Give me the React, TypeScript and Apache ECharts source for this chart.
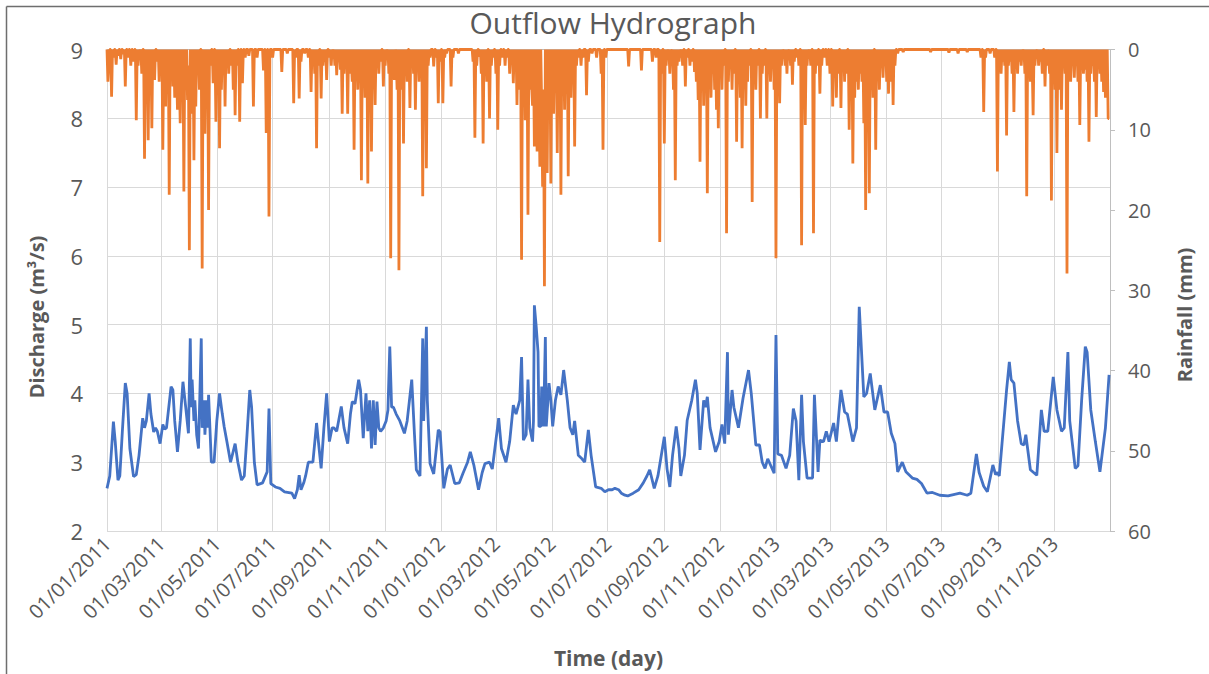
import React, { useEffect, useRef } from "react";
import * as echarts from "echarts";

const tickLabels = [
  "01/01/2011", "01/03/2011", "01/05/2011", "01/07/2011", "01/09/2011", "01/11/2011",
  "01/01/2012", "01/03/2012", "01/05/2012", "01/07/2012", "01/09/2012", "01/11/2012",
  "01/01/2013", "01/03/2013", "01/05/2013", "01/07/2013", "01/09/2013", "01/11/2013",
];

// [day since 01/01/2011, discharge m3/s]
const discharge: [number, number][] = [
  [0,2.62],[3,2.8],[7,3.59],[9,3.3],[12,2.74],[14,2.8],[17,3.5],[20,4.15],[22,4.0],[25,3.2],[29,2.79],[32,2.82],[35,3.1],[39,3.64],[41,3.5],[43,3.6],[46,4.0],[48,3.7],[51,3.44],[53,3.5],[55,3.45],[58,3.27],[61,3.55],[63,3.48],[65,3.5],[70,4.1],[72,4.05],[74,3.6],[77,3.15],[80,3.6],[83,4.17],[86,3.8],[89,3.42],[91,4.8],[92,3.8],[93,4.2],[95,3.6],[96,3.9],[98,3.4],[100,3.2],[103,4.8],[104,3.5],[106,3.9],[107,3.4],[109,3.9],[110,3.5],[111,3.98],[114,3.0],[117,3.0],[120,3.6],[123,4.0],[126,3.7],[128,3.52],[131,3.3],[135,3.0],[140,3.27],[143,3.0],[147,2.74],[150,2.8],[153,3.4],[156,4.05],[158,3.8],[161,3.0],[164,2.67],[170,2.7],[175,2.86],[177,3.78],[179,2.69],[184,2.64],[189,2.62],[194,2.57],[202,2.55],[205,2.47],[208,2.6],[210,2.81],[212,2.6],[215,2.7],[217,2.8],[220,3.0],[225,3.0],[229,3.57],[231,3.3],[234,2.91],[237,3.5],[240,4.0],[243,3.3],[246,3.5],[248,3.5],[251,3.45],[256,3.81],[259,3.5],[263,3.27],[266,3.7],[268,3.88],[271,3.85],[275,4.2],[277,4.05],[280,3.35],[283,4.0],[285,3.45],[287,3.9],[289,3.2],[291,3.9],[293,3.25],[295,3.88],[297,3.5],[299,3.45],[302,3.5],[305,3.6],[307,3.76],[309,4.68],[311,3.8],[313,3.8],[316,3.7],[320,3.6],[325,3.42],[328,3.6],[333,4.2],[336,3.4],[338,2.89],[342,2.8],[345,4.8],[346,3.6],[349,4.97],[350,3.9],[353,2.98],[357,2.83],[362,3.47],[364,3.44],[368,2.62],[372,2.9],[375,2.96],[380,2.69],[385,2.7],[389,2.84],[394,3.0],[397,3.15],[401,2.95],[406,2.6],[410,2.85],[413,2.98],[418,3.0],[421,2.9],[428,3.64],[431,3.2],[436,3.0],[440,3.3],[444,3.83],[447,3.7],[451,3.9],[453,4.53],[455,3.32],[458,3.4],[460,4.2],[462,3.5],[465,3.3],[466,3.6],[467,5.28],[469,4.97],[471,4.6],[472,3.52],[474,3.52],[475,4.1],[477,3.52],[479,4.82],[480,3.52],[483,4.15],[485,3.9],[487,3.52],[490,3.9],[493,4.1],[496,3.98],[499,4.34],[503,3.9],[506,3.5],[509,3.4],[511,3.6],[515,3.1],[519,3.05],[522,3.0],[526,3.47],[529,3.1],[534,2.64],[540,2.62],[544,2.57],[548,2.6],[552,2.6],[555,2.62],[559,2.6],[562,2.55],[566,2.52],[569,2.51],[575,2.55],[581,2.6],[586,2.7],[590,2.8],[593,2.89],[598,2.62],[602,2.8],[609,3.37],[612,2.9],[615,2.64],[618,3.1],[622,3.52],[625,3.2],[627,2.8],[631,3.1],[634,3.61],[639,3.9],[643,4.2],[645,4.0],[648,3.18],[652,3.9],[654,3.8],[656,3.95],[659,3.5],[665,3.15],[669,3.3],[672,3.55],[675,3.27],[678,4.6],[679,3.4],[683,4.05],[685,3.8],[690,3.5],[695,3.93],[701,4.34],[704,4.0],[709,3.25],[713,3.25],[716,3.0],[719,2.91],[722,3.05],[729,2.84],[731,4.85],[733,3.12],[737,3.1],[742,2.91],[746,3.1],[750,3.78],[753,3.6],[756,2.74],[759,3.98],[761,3.3],[765,2.77],[771,2.77],[773,3.98],[777,2.86],[779,3.32],[783,3.3],[786,3.45],[789,3.3],[794,3.57],[797,3.3],[802,4.05],[806,3.73],[809,3.7],[815,3.3],[819,3.5],[822,5.26],[827,3.95],[830,4.0],[834,4.29],[839,3.76],[845,4.12],[849,3.73],[853,3.73],[857,3.42],[861,3.27],[864,2.86],[869,3.0],[873,2.86],[880,2.77],[885,2.75],[890,2.69],[896,2.55],[902,2.56],[910,2.52],[919,2.51],[925,2.53],[932,2.55],[940,2.52],[944,2.55],[950,3.12],[953,2.85],[958,2.65],[962,2.57],[968,2.96],[971,2.82],[973,2.85],[975,2.8],[983,4.05],[986,4.46],[988,4.2],[991,4.15],[995,3.6],[999,3.27],[1002,3.25],[1004,3.4],[1009,2.89],[1016,2.81],[1021,3.76],[1024,3.45],[1028,3.45],[1034,4.24],[1038,3.76],[1043,3.45],[1046,3.5],[1050,4.6],[1052,3.6],[1058,2.91],[1061,2.95],[1065,3.9],[1069,4.68],[1071,4.6],[1075,3.76],[1080,3.3],[1085,2.86],[1091,3.5],[1095,4.27],
];

// [day since 01/01/2011, rainfall mm] for rainy days; all other days have 0 mm
const rainfallEvents: [number, number][] = [
  [1,4],[2,1.5],[5,5.9],[7,1],[10,1.9],[12,0.8],[15,1.2],[18,0.6],[20,4.6],[23,1],[26,2],[29,1.5],[32,8.8],[34,2],[36,1],[38,3],[41,13.6],[43,4],[45,11.3],[47,2.5],[49,9.8],[51,2],[52,3.8],[55,1.5],[57,4],[59,2.5],[61,12.5],[63,3],[64,7.1],[66,2],[68,18.1],[70,3],[72,4.6],[74,6],[76,2],[77,7.5],[79,3],[80,9.2],[82,5],[84,17.7],[86,3],[88,6.3],[89,2],[90,25],[92,4],[93,8],[95,13.8],[97,7.1],[99,3],[101,5],[104,27.3],[106,4],[107,10.5],[109,3],[111,20],[113,2],[116,4.2],[119,9],[121,3],[123,12.3],[125,5],[127,2],[129,7.1],[131,1.5],[133,3],[136,2],[138,5],[140,8.2],[142,2],[145,9],[148,4.2],[151,1],[155,0.8],[160,7.1],[164,1],[171,2.6],[174,10.4],[177,20.8],[181,1],[191,2.8],[197,0.5],[204,6.7],[206,1],[210,6.1],[212,1.5],[216,0.5],[220,1],[223,5.3],[225,2],[227,3],[229,12.3],[231,2],[234,6.1],[236,2],[238,1.5],[240,3.8],[243,1],[245,2],[247,1],[249,2],[251,3.2],[253,1.5],[255,2.5],[257,8],[259,3],[261,2],[263,8],[265,3],[267,1.5],[268,4],[270,12.5],[272,3],[274,5],[276,2],[278,16.3],[280,4],[282,6],[283,2],[285,16.7],[287,3],[289,12.7],[291,2],[293,6.9],[295,2],[297,3],[299,1.5],[302,4.6],[304,2],[306,1],[308,3],[310,26],[312,2],[314,3.8],[316,1],[317,5],[319,27.5],[321,3],[322,5],[324,11.7],[326,2],[328,4],[331,7.3],[333,2],[335,3],[337,7.5],[339,2],[341,4],[343,2],[345,18.3],[347,4],[349,14.8],[351,2],[353,1],[357,2.1],[360,1],[362,6.7],[364,1.5],
  [367,6.7],[369,1],[371,0.5],[376,4.6],[378,1],[384,0.5],[400,1.5],[402,11],[404,2],[407,0.9],[409,3],[411,11.7],[413,2],[415,4],[418,8.6],[420,2],[422,1],[425,3],[427,10],[429,2],[432,1],[435,2],[437,1],[440,3],[442,1.5],[444,4.2],[446,2],[448,6.9],[450,3],[451,5],[453,26.2],[455,4],[457,8.8],[458,3],[460,20.6],[462,5],[464,4.5],[465,7],[467,12.1],[469,6],[470,12.7],[472,5],[473,14.6],[475,7],[476,17.1],[477,5],[478,29.5],[480,6],[481,15.4],[483,6],[485,16.7],[487,5],[488,8],[490,3],[492,12.9],[494,5],[496,18.1],[498,4],[500,7.5],[502,3],[504,15.8],[506,2],[507,6],[509,3],[511,12.1],[513,2],[515,1],[518,2],[520,1],[524,5.7],[526,1.5],[530,0.5],[535,1],[540,3],[542,12.5],[545,1],[570,2.1],[584,2.6],[596,1.5],[600,1],[604,24],[606,3],[609,11.7],[611,2],[613,1],[615,3],[617,1],[619,5],[621,16.3],[623,2],[625,1.5],[627,1],[629,2],[632,4.6],[634,1],[637,2],[639,1.5],[642,2.8],[644,4],[646,6.3],[648,14],[650,5],[652,7],[654,3],[656,17.9],[658,4],[660,6],[662,3],[664,5],[666,7.5],[668,9.8],[670,3],[672,5],[674,2],[677,22.9],[679,4],[681,2],[683,5],[685,3],[688,11.5],[690,4],[692,6],[694,12.3],[696,3],[698,7],[700,4],[702,2],[705,19],[707,3],[709,5],[711,2],[714,8.6],[716,3],[718,2],[721,8.6],[723,3],[725,4],[727,2],[729,5],
  [731,26],[733,3],[735,6.7],[737,2],[739,1],[741,2],[743,3],[745,1],[747,2],[749,4.4],[751,1.5],[754,1],[756,2],[759,24.4],[761,3],[763,9.4],[765,2],[767,1],[769,2],[772,22.9],[774,3],[776,2],[779,5.5],[781,2],[784,1],[787,2],[790,3],[793,7.1],[795,2],[797,6],[799,3],[802,7.3],[804,2],[806,4],[808,3],[811,10],[813,5],[815,14.2],[817,6],[819,4],[821,5],[823,3],[825,4],[827,9.2],[829,20],[831,8],[833,17.9],[835,5],[837,6],[840,12.5],[842,3],[844,5],[846,2],[848,3.5],[850,2],[852,4],[854,5.5],[856,2],[857,4],[859,6.9],[861,2],[864,0.5],[870,0.3],[900,0.3],[920,0.4],[930,0.5],[940,0.3],[955,1],[958,7.8],[960,1],[965,0.5],[970,1],[973,15.2],[975,2],[977,3],[979,1.5],[981,2],[983,10.7],[985,2],[987,1.5],[989,3],[991,7.8],[993,2],[995,3],[997,1.5],[999,2],[1001,1],[1003,3],[1005,18.3],[1007,3],[1009,4],[1011,2],[1012,8.2],[1014,2],[1016,1],[1018,2],[1020,1.5],[1022,3],[1025,4.6],[1027,2],[1029,1],[1030,3],[1032,18.8],[1034,2],[1036,5],[1038,12.9],[1040,3],[1041,5],[1043,7.5],[1045,2],[1047,3],[1049,27.9],[1051,3],[1053,4],[1055,2],[1057,3.5],[1059,1.5],[1061,4],[1063,9.4],[1065,2],[1067,3],[1069,2.5],[1071,4],[1073,11.5],[1075,3],[1077,2],[1079,4],[1081,8.4],[1083,2],[1085,3],[1087,4],[1089,5.3],[1091,6],[1092,3],[1094,8.6],[1095,8.6],
];

const TOTAL_DAYS = 1096;
const FONT = "'Open Sans', sans-serif";
const GREY = "#595959";

function dayOf(s: string): number {
  const [d, m, y] = s.split("/").map(Number);
  return Math.round((Date.UTC(y, m - 1, d) - Date.UTC(2011, 0, 1)) / 86400000);
}
const tickDays = tickLabels.map(dayOf);

export default function App() {
  const ref = useRef<HTMLDivElement>(null);
  useEffect(() => {
    if (!ref.current) return;
    const chart = echarts.init(ref.current, null, { renderer: "svg" });
    const rainMap = new Map<number, number>(rainfallEvents);
    const rainDaily: [number, number][] = [];
    for (let d = 0; d < TOTAL_DAYS; d++) rainDaily.push([d, rainMap.get(d) ?? 0]);

    const nameStyle = (text: string) => ({
      text,
      fill: GREY,
      font: `bold 20px ${FONT}`,
      align: "center",
      verticalAlign: "middle",
    });

    chart.setOption({
      animation: false,
      backgroundColor: "#ffffff",
      title: {
        text: "Outflow Hydrograph",
        left: 608,
        textAlign: "center",
        top: 2,
        textStyle: { fontFamily: FONT, fontSize: 30, fontWeight: "normal", color: GREY },
      },
      graphic: [
        { type: "line", shape: { x1: 6.5, y1: 6.5, x2: 1209, y2: 6.5 }, style: { stroke: "#6e6e6e", lineWidth: 1.5 } },
        { type: "line", shape: { x1: 6.5, y1: 6.5, x2: 6.5, y2: 674 }, style: { stroke: "#6e6e6e", lineWidth: 1.5 } },
        { type: "text", x: 36, y: 317, rotation: Math.PI / 2, style: nameStyle("Discharge (m³/s)") },
        { type: "text", x: 1184, y: 315, rotation: Math.PI / 2, style: nameStyle("Rainfall (mm)") },
      ],
      grid: { left: 107, right: 99, top: 49.5, bottom: 143, containLabel: false },
      xAxis: {
        type: "value",
        min: 0,
        max: TOTAL_DAYS,
        name: "Time (day)",
        nameLocation: "middle",
        nameGap: 116,
        nameTextStyle: { fontFamily: FONT, fontSize: 21, fontWeight: "bold", color: GREY },
        axisLine: { show: true, lineStyle: { color: "#bfbfbf", width: 1 } },
        axisTick: { show: false, customValues: tickDays },
        splitLine: { show: true, lineStyle: { color: "#d9d9d9", width: 1 } },
        axisLabel: {
          customValues: tickDays,
          rotate: 45,
          margin: 9,
          fontFamily: FONT,
          fontSize: 20,
          color: GREY,
          formatter: (v: number) => {
            const i = tickDays.indexOf(Math.round(v));
            return i >= 0 ? tickLabels[i] : "";
          },
        },
      },
      yAxis: [
        {
          type: "value",
          min: 2,
          max: 9,
          interval: 1,
          axisLine: { show: false },
          axisTick: { show: false },
          axisLabel: { fontFamily: FONT, fontSize: 22, color: GREY, margin: 24 },
          splitLine: { show: true, lineStyle: { color: "#d9d9d9", width: 1 } },
        },
        {
          type: "value",
          min: 0,
          max: 60,
          interval: 10,
          inverse: true,
          position: "right",
          axisLine: { show: true, lineStyle: { color: "#bfbfbf", width: 1 } },
          axisTick: { show: true, length: 5, lineStyle: { color: "#bfbfbf" } },
          axisLabel: { fontFamily: FONT, fontSize: 20, color: GREY, margin: 18 },
          splitLine: { show: false },
        },
      ],
      series: [
        {
          name: "Discharge",
          type: "line",
          yAxisIndex: 0,
          data: discharge,
          symbol: "none",
          lineStyle: { color: "#4472C4", width: 2.8 },
          z: 3,
        },
        {
          name: "Rainfall",
          type: "line",
          yAxisIndex: 1,
          data: rainDaily,
          symbol: "none",
          lineStyle: { color: "#ED7D31", width: 2.8 },
          z: 2,
        },
      ],
    });
    return () => chart.dispose();
  }, []);
  return (
    <div
      ref={ref}
      style={{ position: "absolute", left: 0, top: 0, width: 1209, height: 674, background: "#fff" }}
    />
  );
}
